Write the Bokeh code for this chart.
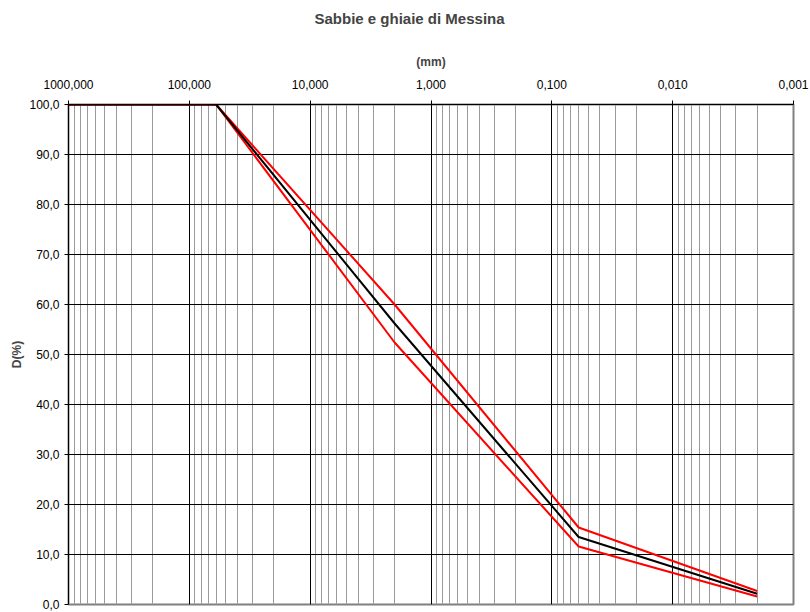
from bokeh.plotting import figure
from bokeh.models import Range1d, FixedTicker, CustomJSTickFormatter, LogAxis
from bokeh.embed import file_html
from bokeh.resources import INLINE

# ---- data ----
sizes_mm = [1000, 60, 2, 0.06, 0.002]
upper_pct = [100.0, 100.0, 60.0, 15.4, 2.7]
lower_pct = [100.0, 100.0, 52.4, 11.6, 1.6]
mean_pct = [100.0, 100.0, 56.2, 13.5, 2.15]

x_ticks = [1000, 100, 10, 1, 0.1, 0.01, 0.001]
x_labels = ["1000,000", "100,000", "10,000", "1,000", "0,100", "0,010", "0,001"]
y_ticks = [0, 10, 20, 30, 40, 50, 60, 70, 80, 90, 100]
y_labels = ["0,0", "10,0", "20,0", "30,0", "40,0", "50,0", "60,0", "70,0", "80,0", "90,0", "100,0"]
title_text = "Sabbie e ghiaie di Messina"

FONT = "Liberation Sans"

p = figure(width=810, height=612, x_axis_type="log",
           x_range=Range1d(1000, 0.001), y_range=Range1d(0, 100),
           x_axis_location="above", output_backend="svg", toolbar_location=None,
           min_border_left=68, min_border_right=17, min_border_bottom=8, min_border_top=104)

p.title.text = title_text
p.title.text_font = FONT
p.title.text_font_size = "15px"
p.title.text_font_style = "bold"
p.title.align = "left"
p.title.offset = 246
p.title.standoff = 0

minor = [k * 10.0 ** d for d in range(-3, 3) for k in range(2, 10)]
xt = FixedTicker(ticks=x_ticks, minor_ticks=minor)
yt = FixedTicker(ticks=y_ticks, minor_ticks=[])

fmt_code = """
let best = 0; let bd = 1e9;
for (let i = 0; i < vals.length; i++) {
  const d = Math.abs(%s);
  if (d < bd) { bd = d; best = i; }
}
return labs[best];
"""
p.xaxis.ticker = xt
p.xaxis.formatter = CustomJSTickFormatter(args=dict(vals=x_ticks, labs=x_labels),
                                          code=fmt_code % "Math.log10(tick) - Math.log10(vals[i])")
p.yaxis.ticker = yt
p.yaxis.formatter = CustomJSTickFormatter(args=dict(vals=y_ticks, labs=y_labels),
                                          code=fmt_code % "tick - vals[i]")

for ax in (p.xaxis, p.yaxis):
    ax.major_label_text_font = FONT
    ax.major_label_text_font_size = "12px"
    ax.axis_label_text_font = FONT
    ax.axis_label_text_font_size = "12px"
    ax.axis_label_text_font_style = "bold"
    ax.axis_line_color = "black"
    ax.axis_line_width = 1
    ax.major_tick_line_color = "black"
    ax.major_tick_in = 0
    ax.major_tick_out = 4
    ax.minor_tick_line_color = None
    ax.major_label_text_color = "black"

p.xaxis.axis_label = "(mm)"
p.xaxis.major_label_standoff = 12
p.xaxis.axis_label_standoff = 8
p.yaxis.axis_label = "D(%)"
p.yaxis.major_label_standoff = 5
p.yaxis.axis_label_standoff = 2

# invisible spacer between the (mm) label and the title
spacer = LogAxis(ticker=FixedTicker(ticks=[1000], minor_ticks=[]),
                 formatter=CustomJSTickFormatter(code="return ''"),
                 axis_line_color=None, major_tick_line_color="white",
                 minor_tick_line_color=None, major_tick_in=0, major_tick_out=25,
                 major_label_standoff=0, major_label_text_font_size="1px")
p.add_layout(spacer, "above")

p.xgrid.ticker = xt
p.xgrid.grid_line_color = "black"
p.xgrid.grid_line_width = 1
p.xgrid.minor_grid_line_color = "#9a9a9a"
p.xgrid.minor_grid_line_width = 1
p.ygrid.ticker = yt
p.ygrid.grid_line_color = "black"
p.ygrid.grid_line_width = 1

p.outline_line_color = "#808080"
p.outline_line_width = 2
p.background_fill_color = "white"
p.border_fill_color = "white"

p.line(sizes_mm, upper_pct, line_color="#ff0000", line_width=2)
p.line(sizes_mm, lower_pct, line_color="#ff0000", line_width=2)
p.line(sizes_mm, mean_pct, line_color="black", line_width=2)

open("out.html", "w").write(file_html(p, INLINE))
